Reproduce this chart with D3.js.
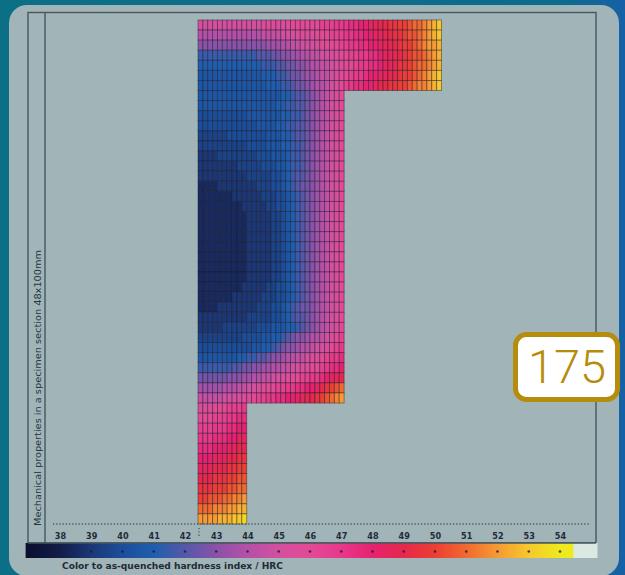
<!DOCTYPE html>
<html>
<head>
<meta charset="utf-8">
<script src="https://cdn.jsdelivr.net/npm/d3@7"></script>
<style>
  html, body { margin: 0; padding: 0; background: #0b6f86; }
  svg { display: block; }
</style>
</head>
<body>
<svg id="chart"></svg>
<script>
const width = 625;
const height = 575;

// each char is one cell, coded in 0.5 HRC steps starting at 38
const hrcCodes = "0123456789ABCDEFGHIJKLMNOPQRSTUVW";

// top flange, 50 cells wide
const armRows = [
    "EEEEEEEEEEEEEFFFFFFGGGGGGHHHIIIJJKKLLMMNNOOPQQRSTU",
    "CCCCCCCCCCCCCDDDDEEEFFFFGGGHHHIIJJKKLLMMNNOPPQRSTU",
    "AAAAAAAAAAAAAABBBCCDDEEEFFGGGHHIIJJKKLLMMNOOPQRSST",
    "77777777777788899AABBCCDDEEFFGGHHIIJJKLLMMNOPPQRST",
    "66666666666667778899AABCCDDEFFGGHIIJJKLLMNNOPQQRST",
    "555555555555566677899ABBCDDEFGGHIIJKKLLMMNOOPQRSTU",
    "5555555555555566677899ABCCDEFGHIJJKKLMMNNOOPQRRSTU"
];

// web, 30 cells wide
const bodyRows = [
    "55555555555555555667889ABCDEFG",
    "55555555555555556677889ABCDEFG",
    "44444444445555555667789ABCDEFG",
    "44444444444455556677889ABCDEFG",
    "33333344444444555667889ABCDEFG",
    "33333333334444555667789ABCDEFG",
    "22223333333344455567789ABCDEFG",
    "22222222333334445567789ABCDEFG",
    "22222222223333344567889ABCDEFG",
    "11112222222233344567899ABCDEFG",
    "11111112222223334456789ABCDEFG",
    "11111111122222334456789ABCDEFG",
    "11111111112222233456789ABCDEFG",
    "11111111112222233456789ABCDEFG",
    "11111111112222233456789ABCDEFG",
    "11111111112222233456789ABCDEFG",
    "11111111112222233456789ABCDEFG",
    "11111111112222233456789ABCDEFG",
    "11111111112222233456789ABCDEFG",
    "11111111122222334456789ABCDEFG",
    "11111112222223334456789ABCDEFG",
    "11112222222233344567899ABCDEFG",
    "22222222223333344567889ABCDEFG",
    "22222333333344455566789ABCDEFG",
    "33333333344445566789AABCCDEFGH",
    "444444444445566789AABCCDEEFGHI",
    "555555556677889AABCCDDEFFGHIIJ",
    "77777778899AABBCCDDEEFFGGHIJJK",
    "999999AAABBCCDDEEFFGGHHIIJKLLM",
    "BBBBBCCCDDEEFFGGHHIIJJKKLMNOPQ",
    "DDDDDEEEFFGGHHIIJJKKLLMMNOPQRS"
];

// foot, 10 cells wide
const legRows = [
    "FFFGGGHHHI",
    "GGGHHHIIJJ",
    "HHHIIIJJKK",
    "IIIJJJKKLL",
    "JJJKKKLLMM",
    "KKKLLLMMNN",
    "LLLMMMNNOO",
    "MMMNNNOOPP",
    "NNNOOOPPQQ",
    "OOPPPQQRRS",
    "QQQRRRSSTT",
    "SSSSTTTUUV"
];

const hardnessTicks = [38, 39, 40, 41, 42, 43, 44, 45, 46, 47, 48, 49, 50, 51, 52, 53, 54];

const colorStopValues = [36.9, 38, 39, 40, 41, 42, 43, 44, 45, 46, 47, 48, 49, 50, 51, 52, 53, 54, 54.4, 54.45, 55.2];
const colorStopColors = [
    "#0a0e2e", "#131c48", "#1b3776", "#1b4e9a", "#1f5eae", "#5558a8", "#8a52a8",
    "#b550a8", "#d34f9f", "#e34a96", "#e8388a", "#e62270", "#e6284c", "#ec3e34",
    "#f06a30", "#f69a34", "#f6c82c", "#eeea1c", "#eeea1c", "#dce8e2", "#dce8e2"
];

const yLabel = "Mechanical properties in a specimen section 48x100mm";
const caption = "Color to as-quenched hardness index / HRC";
const badgeText = "175";

const frame = { left: 28, inner: 45, right: 596, top: 12.5, bottom: 543 };

const svg = d3.select("#chart").attr("width", width).attr("height", height);
const defs = svg.append("defs");

// page background
const bg = defs.append("linearGradient").attr("id", "bg").attr("x1", 0).attr("x2", 1).attr("y1", 0).attr("y2", 0);
bg.append("stop").attr("offset", 0).attr("stop-color", "#0b6f86");
bg.append("stop").attr("offset", 0.9).attr("stop-color", "#0d6b8c");
bg.append("stop").attr("offset", 1).attr("stop-color", "#1760a6");
svg.append("rect").attr("width", width).attr("height", height).attr("fill", "url(#bg)");

svg.append("rect")
    .attr("x", 9).attr("y", 5)
    .attr("width", 610).attr("height", 571)
    .attr("rx", 18)
    .attr("fill", "#a1b4b8");

const hardnessX = d3.scaleLinear().domain([38, 54]).range([60, 560]);
const color = d3.scaleLinear().domain(colorStopValues).range(colorStopColors).clamp(true);

const gridX = d3.scaleLinear().domain([0, 50]).range([198, 441.5]);
const gridY = d3.scaleLinear().domain([0, 50]).range([20, 524]);

const cells = armRows.concat(bodyRows, legRows).flatMap((row, r) =>
    row.split("").map((ch, c) => ({ r, c, hrc: 38 + hrcCodes.indexOf(ch) * 0.5 }))
);

// frame
const frameG = svg.append("g").attr("fill", "none").attr("stroke", "#46575e").attr("stroke-width", 1.4);
frameG.append("rect")
    .attr("x", frame.left).attr("y", frame.top)
    .attr("width", frame.right - frame.left).attr("height", frame.bottom - frame.top);
frameG.append("line")
    .attr("x1", frame.inner).attr("x2", frame.inner)
    .attr("y1", frame.top).attr("y2", frame.bottom);

svg.append("text")
    .attr("transform", `translate(40.5, 526) rotate(-90)`)
    .attr("font-family", "DejaVu Sans Condensed, DejaVu Sans")
    .attr("font-size", 8.6)
    .attr("fill", "#26363f")
    .attr("textLength", 276)
    .attr("lengthAdjust", "spacingAndGlyphs")
    .text(yLabel);

// section cells
svg.append("g")
    .selectAll("rect")
    .data(cells)
    .join("rect")
    .attr("x", (d) => gridX(d.c))
    .attr("y", (d) => gridY(d.r))
    .attr("width", (d) => gridX(d.c + 1) - gridX(d.c))
    .attr("height", (d) => gridY(d.r + 1) - gridY(d.r))
    .attr("fill", (d) => color(d.hrc))
    .attr("stroke", "#1b1626")
    .attr("stroke-opacity", 0.45)
    .attr("stroke-width", 0.9);

// dotted base line
svg.append("line")
    .attr("x1", 53).attr("x2", 590)
    .attr("y1", 524).attr("y2", 524)
    .attr("stroke", "#4c5f66")
    .attr("stroke-width", 1.3)
    .attr("stroke-dasharray", "1.3,1.9");
svg.append("line")
    .attr("x1", 199).attr("x2", 199)
    .attr("y1", 528).attr("y2", 537)
    .attr("stroke", "#4c5f66")
    .attr("stroke-width", 1.3)
    .attr("stroke-dasharray", "1.3,2");

// hardness axis labels
const xAxis = d3.axisBottom(hardnessX).tickValues(hardnessTicks).tickSize(0).tickPadding(3);
const axisG = svg.append("g").attr("transform", "translate(0, 530)").call(xAxis);
axisG.select(".domain").remove();
axisG.selectAll("text")
    .attr("font-family", "DejaVu Sans Condensed, DejaVu Sans")
    .attr("font-weight", "bold")
    .attr("font-size", 9)
    .attr("fill", "#1e2b38");

// colour bar
const barMin = colorStopValues[0];
const barMax = colorStopValues[colorStopValues.length - 1];
const grad = defs.append("linearGradient")
    .attr("id", "hrcBar")
    .attr("gradientUnits", "userSpaceOnUse")
    .attr("x1", hardnessX(barMin)).attr("x2", hardnessX(barMax))
    .attr("y1", 0).attr("y2", 0);
grad.selectAll("stop")
    .data(colorStopValues)
    .join("stop")
    .attr("offset", (d) => (d - barMin) / (barMax - barMin))
    .attr("stop-color", (d, i) => colorStopColors[i]);

svg.append("rect")
    .attr("x", hardnessX(barMin))
    .attr("y", frame.bottom)
    .attr("width", hardnessX(barMax) - hardnessX(barMin))
    .attr("height", 15)
    .attr("fill", "url(#hrcBar)");
svg.append("line")
    .attr("x1", frame.left).attr("x2", frame.right)
    .attr("y1", frame.bottom).attr("y2", frame.bottom)
    .attr("stroke", "#46575e").attr("stroke-width", 1.4);

svg.append("g")
    .selectAll("circle")
    .data(hardnessTicks)
    .join("circle")
    .attr("cx", (d) => hardnessX(d))
    .attr("cy", 551.5)
    .attr("r", 1.3)
    .attr("fill", "#1a1c3a")
    .attr("fill-opacity", 0.8);

svg.append("text")
    .attr("x", 62).attr("y", 569)
    .attr("font-family", "DejaVu Sans Condensed, DejaVu Sans")
    .attr("font-weight", "bold")
    .attr("font-size", 9)
    .attr("fill", "#1e2b36")
    .attr("textLength", 221)
    .attr("lengthAdjust", "spacingAndGlyphs")
    .text(caption);

// page number badge
svg.append("rect")
    .attr("x", 515.5).attr("y", 334.5)
    .attr("width", 102).attr("height", 65)
    .attr("rx", 11)
    .attr("fill", "#ffffff")
    .attr("stroke", "#b68c0c")
    .attr("stroke-width", 5);
svg.append("text")
    .attr("x", 567).attr("y", 383)
    .attr("text-anchor", "middle")
    .attr("font-family", "Roboto, sans-serif")
    .attr("font-weight", 300)
    .attr("font-size", 47)
    .attr("fill", "#b68c0c")
    .text(badgeText);
</script>
</body>
</html>
